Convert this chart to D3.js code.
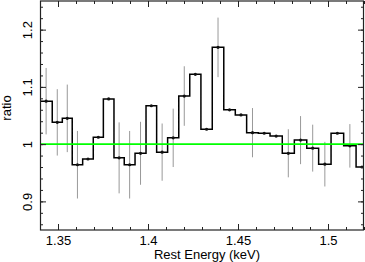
<!DOCTYPE html>
<html>
<head>
<meta charset="utf-8">
<script src="https://cdn.jsdelivr.net/npm/d3@7"></script>
<style>
  html, body { margin: 0; padding: 0; background: #fff; }
  svg { display: block; font-family: "Liberation Sans", Arial, sans-serif; }
</style>
</head>
<body>
<div id="chart"></div>
<script>
// bin edges in rest energy (keV), one more than the number of bins
var binEdges = [1.3400, 1.3468, 1.3524, 1.3579, 1.3637, 1.3696, 1.3752, 1.3811, 1.3868, 1.3928,
                1.3989, 1.4048, 1.4109, 1.4171, 1.4232, 1.4294, 1.4357, 1.4421, 1.4485, 1.4548,
                1.4613, 1.4678, 1.4746, 1.4813, 1.4882, 1.4948, 1.5017, 1.5087, 1.5156, 1.5222];

// data / model ratio per bin
var ratio = [1.075, 1.038, 1.045, 0.964, 0.974, 1.012, 1.079, 0.976, 0.964, 0.984,
             1.067, 0.986, 1.011, 1.084, 1.122, 1.026, 1.169, 1.060, 1.051, 1.020,
             1.019, 1.014, 0.984, 1.007, 0.993, 0.965, 1.019, 0.997, 0.960];

// 1 sigma error (null = no bar drawn)
var ratioErr = [0.058, 0.058, 0.059, 0.059, null, null, null, 0.062, 0.059, 0.055,
                null, 0.050, 0.051, 0.052, null, null, 0.052, null, null, 0.043,
                null, null, 0.042, 0.042, 0.041, 0.039, null, 0.038, null];

var xMajor = [1.35, 1.4, 1.45, 1.5];
var yMajor = [0.9, 1, 1.1, 1.2];
var unity = 1;

var W = 365, H = 262;
var pL = 40, pR = 364, pT = 1, pB = 230;

var x = d3.scaleLinear().domain([1.34, 1.52]).range([pL, pR]);
var y = d3.scaleLinear().domain([0.85, 1.25]).range([pB, pT]);

var svg = d3.select('#chart').append('svg')
    .attr('width', W).attr('height', H);

svg.append('clipPath').attr('id', 'plotclip')
  .append('rect').attr('x', pL).attr('y', pT)
  .attr('width', pR - pL).attr('height', pB - pT);

var bins = ratio.map(function (r, i) {
    return { lo: binEdges[i], hi: binEdges[i + 1], r: r, e: ratioErr[i] };
});

var plot = svg.append('g').attr('clip-path', 'url(#plotclip)');

// error bars (grey, behind)
plot.selectAll('line.err')
    .data(bins.filter(function (d) { return d.e != null; }))
  .enter().append('line')
    .attr('class', 'err')
    .attr('x1', function (d) { return x((d.lo + d.hi) / 2); })
    .attr('x2', function (d) { return x((d.lo + d.hi) / 2); })
    .attr('y1', function (d) { return y(d.r + d.e); })
    .attr('y2', function (d) { return y(d.r - d.e); })
    .attr('stroke', '#999').attr('stroke-width', 1);

// step histogram
var stepPts = bins.map(function (d) { return [d.lo, d.r]; });
stepPts.push([bins[bins.length - 1].hi, bins[bins.length - 1].r]);

plot.append('path')
    .datum(stepPts)
    .attr('fill', 'none')
    .attr('stroke', '#000')
    .attr('stroke-width', 1.5)
    .attr('d', d3.line()
        .x(function (d) { return x(d[0]); })
        .y(function (d) { return y(d[1]); })
        .curve(d3.curveStepAfter));

// data points
plot.selectAll('circle.pt')
    .data(bins)
  .enter().append('circle')
    .attr('class', 'pt')
    .attr('cx', function (d) { return x((d.lo + d.hi) / 2); })
    .attr('cy', function (d) { return y(d.r); })
    .attr('r', 1.6)
    .attr('fill', '#111');

// ratio = 1 line
plot.append('line')
    .attr('x1', pL).attr('x2', pR)
    .attr('y1', y(unity)).attr('y2', y(unity))
    .attr('stroke', '#00ff00').attr('stroke-width', 1.6);

// axes, ticks inward on all sides
var xMinor = d3.range(135, 153).map(function (v) { return v / 100; });
var yMinor = d3.range(43, 63).map(function (v) { return v / 50; });

function styleAxis(g) {
    g.select('.domain').remove();
    g.selectAll('line').attr('stroke', '#222').attr('stroke-width', 1);
    g.selectAll('text').attr('fill', '#000').style('font-size', '13px')
        .style('font-family', '"Liberation Sans", Arial, sans-serif');
}

svg.append('g').attr('transform', 'translate(0,' + pB + ')')
    .call(d3.axisBottom(x).tickValues(xMinor).tickSize(-3).tickFormat(''))
    .call(styleAxis);
svg.append('g').attr('transform', 'translate(0,' + pB + ')')
    .call(d3.axisBottom(x).tickValues(xMajor).tickSize(-6).tickPadding(5.3)
        .tickFormat(function (d) { return String(d); }))
    .call(styleAxis);
svg.append('g').attr('transform', 'translate(0,' + pT + ')')
    .call(d3.axisTop(x).tickValues(xMinor).tickSize(-3).tickFormat(''))
    .call(styleAxis);
svg.append('g').attr('transform', 'translate(0,' + pT + ')')
    .call(d3.axisTop(x).tickValues(xMajor).tickSize(-6).tickFormat(''))
    .call(styleAxis);

svg.append('g').attr('transform', 'translate(' + pL + ',0)')
    .call(d3.axisLeft(y).tickValues(yMinor).tickSize(-3).tickFormat(''))
    .call(styleAxis);
var yAx = svg.append('g').attr('transform', 'translate(' + pL + ',0)')
    .call(d3.axisLeft(y).tickValues(yMajor).tickSize(-6)
        .tickFormat(function (d) { return String(d); }))
    .call(styleAxis);
yAx.selectAll('text')
    .attr('transform', 'rotate(-90)')
    .attr('x', 0).attr('y', -8).attr('dy', 0)
    .attr('text-anchor', 'middle');

svg.append('g').attr('transform', 'translate(' + pR + ',0)')
    .call(d3.axisRight(y).tickValues(yMinor).tickSize(-3).tickFormat(''))
    .call(styleAxis);
svg.append('g').attr('transform', 'translate(' + pR + ',0)')
    .call(d3.axisRight(y).tickValues(yMajor).tickSize(-6).tickFormat(''))
    .call(styleAxis);

// frame
svg.append('rect')
    .attr('x', pL + 0.5).attr('y', pT)
    .attr('width', pR - pL - 1).attr('height', pB - pT)
    .attr('fill', 'none').attr('stroke', '#222').attr('stroke-width', 1.2);

// axis titles
svg.append('text')
    .attr('x', 207).attr('y', 258.5)
    .attr('text-anchor', 'middle')
    .style('font-size', '13px')
    .text('Rest Energy (keV)');

svg.append('text')
    .attr('transform', 'translate(10.5,108) rotate(-90)')
    .attr('text-anchor', 'middle')
    .style('font-size', '13px')
    .text('ratio');
</script>
</body>
</html>
